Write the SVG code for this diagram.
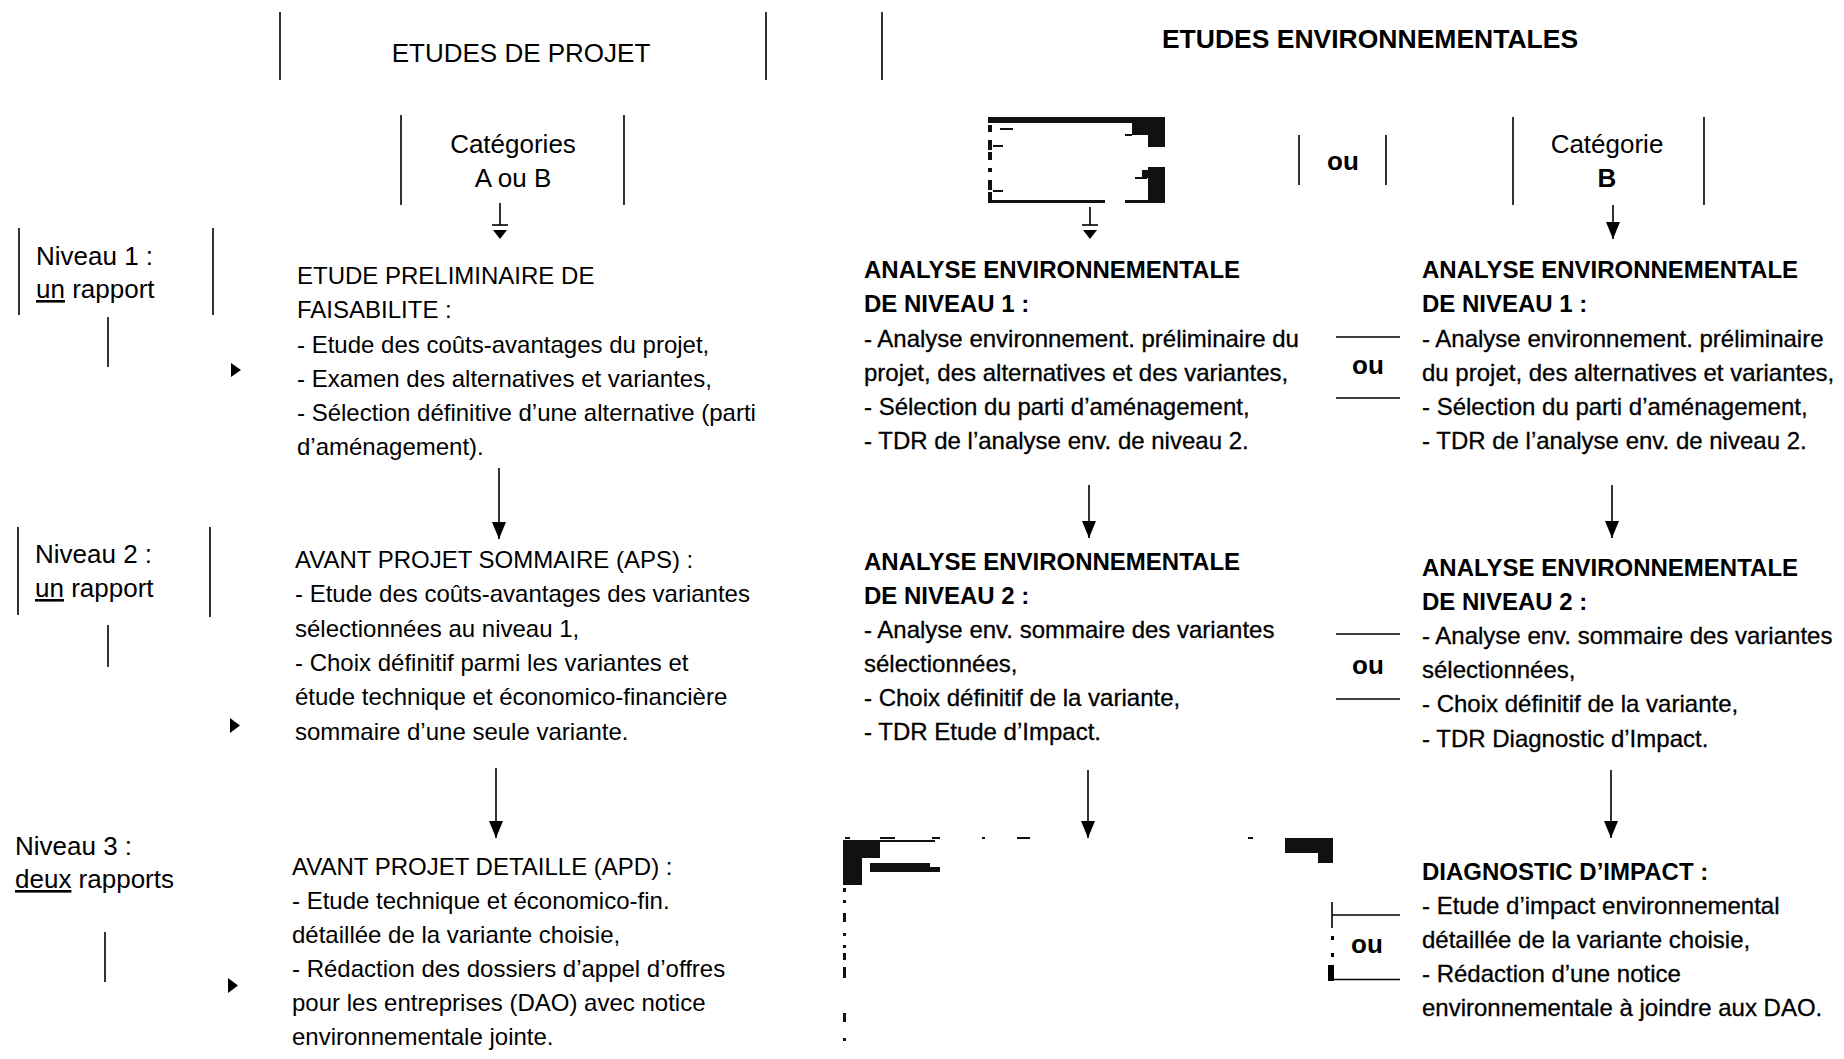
<svg xmlns="http://www.w3.org/2000/svg" width="1844" height="1059" viewBox="0 0 1844 1059">
<style>
  text { font-family: "Liberation Sans", Arial, sans-serif; fill: #000; }
  .t { font-size: 24px; }
  .h { font-size: 26px; }
  .b { font-weight: bold; }
  .e { stroke: #000; stroke-width: 0.3; }
  .ln { stroke: #000; stroke-width: 1.6; fill: none; }
  .ink { fill: #111; }
  .c { text-anchor: middle; }
</style>
<defs>
  <marker id="ah" viewBox="0 0 17 14" refX="17" refY="7" markerWidth="17" markerHeight="14" orient="auto" markerUnits="userSpaceOnUse">
    <path d="M0,0 L17,7 L0,14 Z" fill="#000"/>
  </marker>
</defs>
<rect width="1844" height="1059" fill="#fff"/>

<!-- headers -->
<g id="header-projet">
  <line class="ln" x1="280" y1="12" x2="280" y2="80"/>
  <line class="ln" x1="766" y1="12" x2="766" y2="80"/>
  <text class="h c" x="521" y="62">ETUDES DE PROJET</text>
</g>
<g id="header-env">
  <line class="ln" x1="882" y1="12" x2="882" y2="80"/>
  <text class="b c" x="1370" y="48" font-size="26.5">ETUDES ENVIRONNEMENTALES</text>
</g>

<g id="cat-ab">
  <line class="ln" x1="401" y1="115" x2="401" y2="205"/>
  <line class="ln" x1="624" y1="115" x2="624" y2="205"/>
  <text class="h c" x="513" y="153">Catégories</text>
  <text class="h c" x="513" y="187">A ou B</text>
</g>

<g id="cat-a-scan">
  <rect class="ink" x="988" y="117" width="177" height="6"/>
  <rect class="ink" x="1132" y="117" width="33" height="18"/>
  <rect class="ink" x="1148" y="117" width="17" height="30"/>
  <rect class="ink" x="1148" y="167" width="17" height="36"/>
  <rect class="ink" x="1142" y="170" width="8" height="8"/>
  <rect class="ink" x="988" y="200" width="117" height="3"/>
  <rect class="ink" x="1125" y="200" width="40" height="3"/>
  <rect class="ink" x="988" y="125" width="4" height="7"/>
  <rect class="ink" x="988" y="140" width="4" height="10"/>
  <rect class="ink" x="988" y="152" width="4" height="8"/>
  <rect class="ink" x="988" y="168" width="4" height="4"/>
  <rect class="ink" x="988" y="180" width="4" height="10"/>
  <rect class="ink" x="988" y="192" width="4" height="8"/>
  <rect class="ink" x="1000" y="128" width="13" height="2"/>
  <rect class="ink" x="1125" y="134" width="7" height="2"/>
  <rect class="ink" x="1135" y="177" width="12" height="2"/>
  <rect class="ink" x="993" y="145" width="10" height="2"/>
  <rect class="ink" x="993" y="190" width="10" height="2"/>
</g>

<g id="ou-top">
  <line class="ln" x1="1299" y1="135" x2="1299" y2="185"/>
  <line class="ln" x1="1386" y1="135" x2="1386" y2="185"/>
  <text class="h b c" x="1343" y="170">ou</text>
</g>

<g id="cat-b">
  <line class="ln" x1="1513" y1="117" x2="1513" y2="205"/>
  <line class="ln" x1="1704" y1="117" x2="1704" y2="205"/>
  <text class="h c" x="1607" y="153">Catégorie</text>
  <text class="h b c" x="1607" y="187">B</text>
</g>

<!-- level labels -->
<g id="niveau-1">
  <line class="ln" x1="19" y1="228" x2="19" y2="315"/>
  <line class="ln" x1="213" y1="228" x2="213" y2="315"/>
  <text class="h" x="36" y="265">Niveau 1 :</text>
  <text class="h" x="36" y="298"><tspan text-decoration="underline">un</tspan> rapport</text>
  <line class="ln" x1="108" y1="317" x2="108" y2="367"/>
  <polygon points="231,363 241,370 231,377" fill="#000"/>
</g>
<g id="niveau-2">
  <line class="ln" x1="18" y1="527" x2="18" y2="615"/>
  <line class="ln" x1="210" y1="527" x2="210" y2="617"/>
  <text class="h" x="35" y="563">Niveau 2 :</text>
  <text class="h" x="35" y="597"><tspan text-decoration="underline">un</tspan> rapport</text>
  <line class="ln" x1="108" y1="625" x2="108" y2="667"/>
  <polygon points="230,718 240,725.5 230,733" fill="#000"/>
</g>
<g id="niveau-3">
  <text class="h" x="15" y="855">Niveau 3 :</text>
  <text class="h" x="15" y="888"><tspan text-decoration="underline">deux</tspan> rapports</text>
  <line class="ln" x1="105" y1="932" x2="105" y2="982"/>
  <polygon points="228,978 238,985.5 228,993" fill="#000"/>
</g>

<!-- Etudes de projet -->
<g id="projet-1">
  <text class="t" x="297" y="284">ETUDE PRELIMINAIRE DE</text>
  <text class="t" x="297" y="318">FAISABILITE :</text>
  <text class="t" x="297" y="353">- Etude des coûts-avantages du projet,</text>
  <text class="t" x="297" y="387">- Examen des alternatives et variantes,</text>
  <text class="t" x="297" y="421">- Sélection définitive d’une alternative (parti</text>
  <text class="t" x="297" y="455">d’aménagement).</text>
</g>
<g id="projet-2">
  <text class="t" x="295" y="568">AVANT PROJET SOMMAIRE (APS) :</text>
  <text class="t" x="295" y="602">- Etude des coûts-avantages des variantes</text>
  <text class="t" x="295" y="637">sélectionnées au niveau 1,</text>
  <text class="t" x="295" y="671">- Choix définitif parmi les variantes et</text>
  <text class="t" x="295" y="705">étude technique et économico-financière</text>
  <text class="t" x="295" y="740">sommaire d’une seule variante.</text>
</g>
<g id="projet-3">
  <text class="t" x="292" y="875">AVANT PROJET DETAILLE (APD) :</text>
  <text class="t" x="292" y="909">- Etude technique et économico-fin.</text>
  <text class="t" x="292" y="943">détaillée de la variante choisie,</text>
  <text class="t" x="292" y="977">- Rédaction des dossiers d’appel d’offres</text>
  <text class="t" x="292" y="1011">pour les entreprises (DAO) avec notice</text>
  <text class="t" x="292" y="1045">environnementale jointe.</text>
</g>

<!-- Env column A -->
<g id="envA-1">
  <text class="t b" x="864" y="278">ANALYSE ENVIRONNEMENTALE</text>
  <text class="t b" x="864" y="312">DE NIVEAU 1 :</text>
  <text class="t e" x="864" y="347">- Analyse environnement. préliminaire du</text>
  <text class="t e" x="864" y="381">projet, des alternatives et des variantes,</text>
  <text class="t e" x="864" y="415">- Sélection du parti d’aménagement,</text>
  <text class="t e" x="864" y="449">- TDR de l’analyse env. de niveau 2.</text>
</g>
<g id="envA-2">
  <text class="t b" x="864" y="570">ANALYSE ENVIRONNEMENTALE</text>
  <text class="t b" x="864" y="604">DE NIVEAU 2 :</text>
  <text class="t e" x="864" y="638">- Analyse env. sommaire des variantes</text>
  <text class="t e" x="864" y="672">sélectionnées,</text>
  <text class="t e" x="864" y="706">- Choix définitif de la variante,</text>
  <text class="t e" x="864" y="740">- TDR Etude d’Impact.</text>
</g>
<g id="envA-3-scan">
  <rect class="ink" x="845" y="837" width="5" height="2"/>
  <rect class="ink" x="880" y="837" width="15" height="2"/>
  <rect class="ink" x="932" y="837" width="8" height="2"/>
  <rect class="ink" x="982" y="837" width="3" height="2"/>
  <rect class="ink" x="1017" y="837" width="13" height="2"/>
  <rect class="ink" x="1248" y="837" width="5" height="2"/>
  <rect class="ink" x="843" y="840" width="92" height="2"/>
  <rect class="ink" x="843" y="840" width="37" height="18"/>
  <rect class="ink" x="843" y="840" width="19" height="45"/>
  <rect class="ink" x="870" y="863" width="60" height="9"/>
  <rect class="ink" x="930" y="867" width="10" height="5"/>
  <rect class="ink" x="1285" y="838" width="48" height="15"/>
  <rect class="ink" x="1318" y="838" width="15" height="25"/>
  <rect class="ink" x="843" y="888" width="3" height="4"/>
  <rect class="ink" x="843" y="900" width="3" height="3"/>
  <rect class="ink" x="843" y="913" width="3" height="9"/>
  <rect class="ink" x="843" y="933" width="3" height="3"/>
  <rect class="ink" x="843" y="945" width="3" height="3"/>
  <rect class="ink" x="843" y="953" width="3" height="7"/>
  <rect class="ink" x="843" y="967" width="3" height="11"/>
  <rect class="ink" x="843" y="1013" width="3" height="9"/>
  <rect class="ink" x="843" y="1038" width="3" height="3"/>
</g>

<!-- Env column B -->
<g id="envB-1">
  <text class="t b" x="1422" y="278">ANALYSE ENVIRONNEMENTALE</text>
  <text class="t b" x="1422" y="312">DE NIVEAU 1 :</text>
  <text class="t e" x="1422" y="347">- Analyse environnement. préliminaire</text>
  <text class="t e" x="1422" y="381">du projet, des alternatives et variantes,</text>
  <text class="t e" x="1422" y="415">- Sélection du parti d’aménagement,</text>
  <text class="t e" x="1422" y="449">- TDR de l’analyse env. de niveau 2.</text>
</g>
<g id="envB-2">
  <text class="t b" x="1422" y="576">ANALYSE ENVIRONNEMENTALE</text>
  <text class="t b" x="1422" y="610">DE NIVEAU 2 :</text>
  <text class="t e" x="1422" y="644">- Analyse env. sommaire des variantes</text>
  <text class="t e" x="1422" y="678">sélectionnées,</text>
  <text class="t e" x="1422" y="712">- Choix définitif de la variante,</text>
  <text class="t e" x="1422" y="747">- TDR Diagnostic d’Impact.</text>
</g>
<g id="envB-3">
  <text class="t b" x="1422" y="880">DIAGNOSTIC D’IMPACT :</text>
  <text class="t e" x="1422" y="914">- Etude d’impact environnemental</text>
  <text class="t e" x="1422" y="948">détaillée de la variante choisie,</text>
  <text class="t e" x="1422" y="982">- Rédaction d’une notice</text>
  <text class="t e" x="1422" y="1016">environnementale à joindre aux DAO.</text>
</g>

<!-- ou labels -->
<g id="ou-1">
  <text class="h b c" x="1368" y="374">ou</text>
</g>
<g id="ou-2">
  <text class="h b c" x="1368" y="674">ou</text>
</g>
<g id="ou-3">
  <text class="h b c" x="1367" y="953">ou</text>
</g>

<!-- connectors -->
<g id="connectors">
  <line class="ln" x1="500" y1="203" x2="500" y2="225"/>
  <line class="ln" x1="492" y1="225" x2="508" y2="225"/>
  <polygon points="493,230 507,230 500,239" fill="#000"/>
  <line class="ln" x1="1090" y1="207" x2="1090" y2="225"/>
  <line class="ln" x1="1082" y1="225" x2="1098" y2="225"/>
  <polygon points="1083,230 1097,230 1090,239" fill="#000"/>
  <line class="ln" x1="1613" y1="205" x2="1613" y2="239" marker-end="url(#ah)"/>

  <line class="ln" x1="499" y1="468" x2="499" y2="539" marker-end="url(#ah)"/>
  <line class="ln" x1="496" y1="768" x2="496" y2="838" marker-end="url(#ah)"/>
  <line class="ln" x1="1089" y1="485" x2="1089" y2="538" marker-end="url(#ah)"/>
  <line class="ln" x1="1088" y1="770" x2="1088" y2="838" marker-end="url(#ah)"/>
  <line class="ln" x1="1612" y1="485" x2="1612" y2="538" marker-end="url(#ah)"/>
  <line class="ln" x1="1611" y1="770" x2="1611" y2="838" marker-end="url(#ah)"/>

  <line class="ln" x1="1336" y1="337" x2="1400" y2="337"/>
  <line class="ln" x1="1336" y1="398" x2="1400" y2="398"/>
  <line class="ln" x1="1336" y1="634" x2="1400" y2="634"/>
  <line class="ln" x1="1336" y1="699" x2="1400" y2="699"/>

  <line class="ln" x1="1332" y1="902" x2="1332" y2="928" stroke-width="2.5"/>
  <line class="ln" x1="1332" y1="915" x2="1400" y2="915"/>
  <rect x="1331" y="936" width="3" height="4" fill="#000"/>
  <rect x="1331" y="953" width="3" height="4" fill="#000"/>
  <rect x="1328" y="965" width="6" height="16" fill="#000"/>
  <line class="ln" x1="1330" y1="979.5" x2="1400" y2="979.5" stroke-width="2"/>
</g>
</svg>
